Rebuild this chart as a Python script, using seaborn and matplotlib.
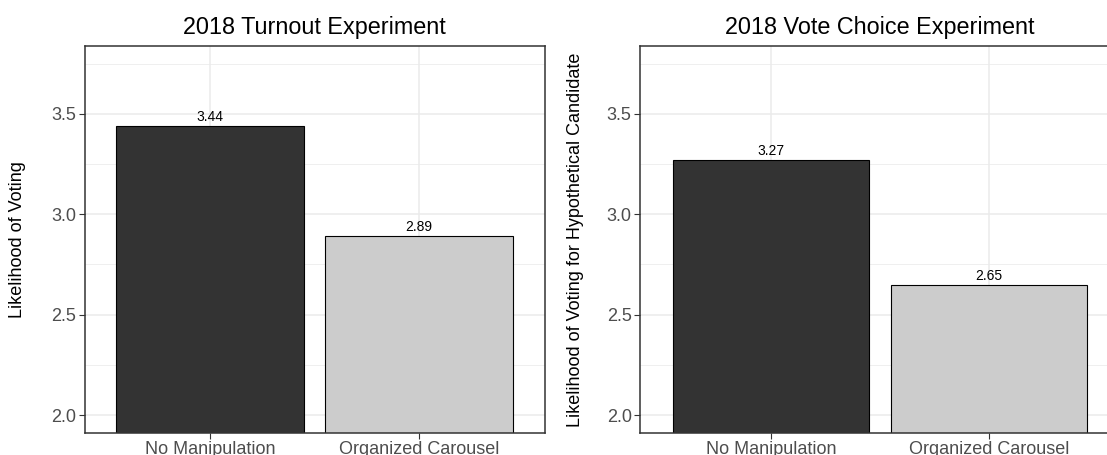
import matplotlib
matplotlib.use("Agg")
import matplotlib.pyplot as plt
from matplotlib.ticker import MultipleLocator
import seaborn as sns
import pandas as pd

conditions = ["No Manipulation", "Organized Carousel"]
turnout_means = [3.44, 2.89]
vote_choice_means = [3.27, 2.65]
bar_colors = ["#333333", "#CCCCCC"]

panels = [
    ("2018 Turnout Experiment", "Likelihood of Voting", turnout_means),
    ("2018 Vote Choice Experiment", "Likelihood of Voting for Hypothetical Candidate", vote_choice_means),
]

sns.set_theme(style="white")
plt.rcParams["font.family"] = ["Liberation Sans", "DejaVu Sans"]

W, H = 1107, 455
fig = plt.figure(figsize=(W / 100, H / 100), dpi=100)

# axes boxes in pixels: left, top, right, bottom (right panel runs off the image)
boxes = [(84.5, 46, 544.7, 432.7), (640, 46, 1119.6, 432.7)]
ylab_x = [18, 575]

for (title, ylab, vals), (l, t, r, b), yx in zip(panels, boxes, ylab_x):
    ax = fig.add_axes([l / W, 1 - b / H, (r - l) / W, (b - t) / H])
    df = pd.DataFrame({"cond": conditions, "val": vals})
    sns.barplot(data=df, x="cond", y="val", hue="cond", palette=bar_colors,
                width=0.9, edgecolor="black", linewidth=0.8, legend=False, ax=ax,
                zorder=2)
    for i, v in enumerate(vals):
        ax.text(i, v + 0.01, f"{v:.2f}", ha="center", va="bottom", fontsize=10,
                color="black", zorder=3)
    ax.set_ylim(1.9125, 3.8375)
    ax.set_xlim(-0.6, 1.6)
    ax.yaxis.set_major_locator(MultipleLocator(0.5))
    ax.yaxis.set_minor_locator(MultipleLocator(0.25))
    ax.grid(which="major", color="#EBEBEB", linewidth=1.1, zorder=0)
    ax.grid(which="minor", axis="y", color="#EBEBEB", linewidth=0.55, zorder=0)
    ax.set_axisbelow(True)
    for s in ax.spines.values():
        s.set_color("#333333")
        s.set_linewidth(1.1)
    ax.tick_params(axis="both", which="major", length=4, width=0.8, color="#333333",
                   labelsize=13, labelcolor="#4D4D4D", pad=2, left=True, bottom=True)
    ax.tick_params(axis="y", which="minor", length=0)
    ax.set_yticks([2.0, 2.5, 3.0, 3.5])
    ax.set_yticklabels(["2.0", "2.5", "3.0", "3.5"])
    ax.set_xlabel("")
    ax.set_ylabel("")
    ax.set_title(title, fontsize=16.8, color="black", pad=9)
    fig.text(yx / W, 1 - ((t + b) / 2) / H, ylab, rotation=90, ha="center",
             va="center", fontsize=13, color="black")

fig.savefig("out.png", dpi=100)
